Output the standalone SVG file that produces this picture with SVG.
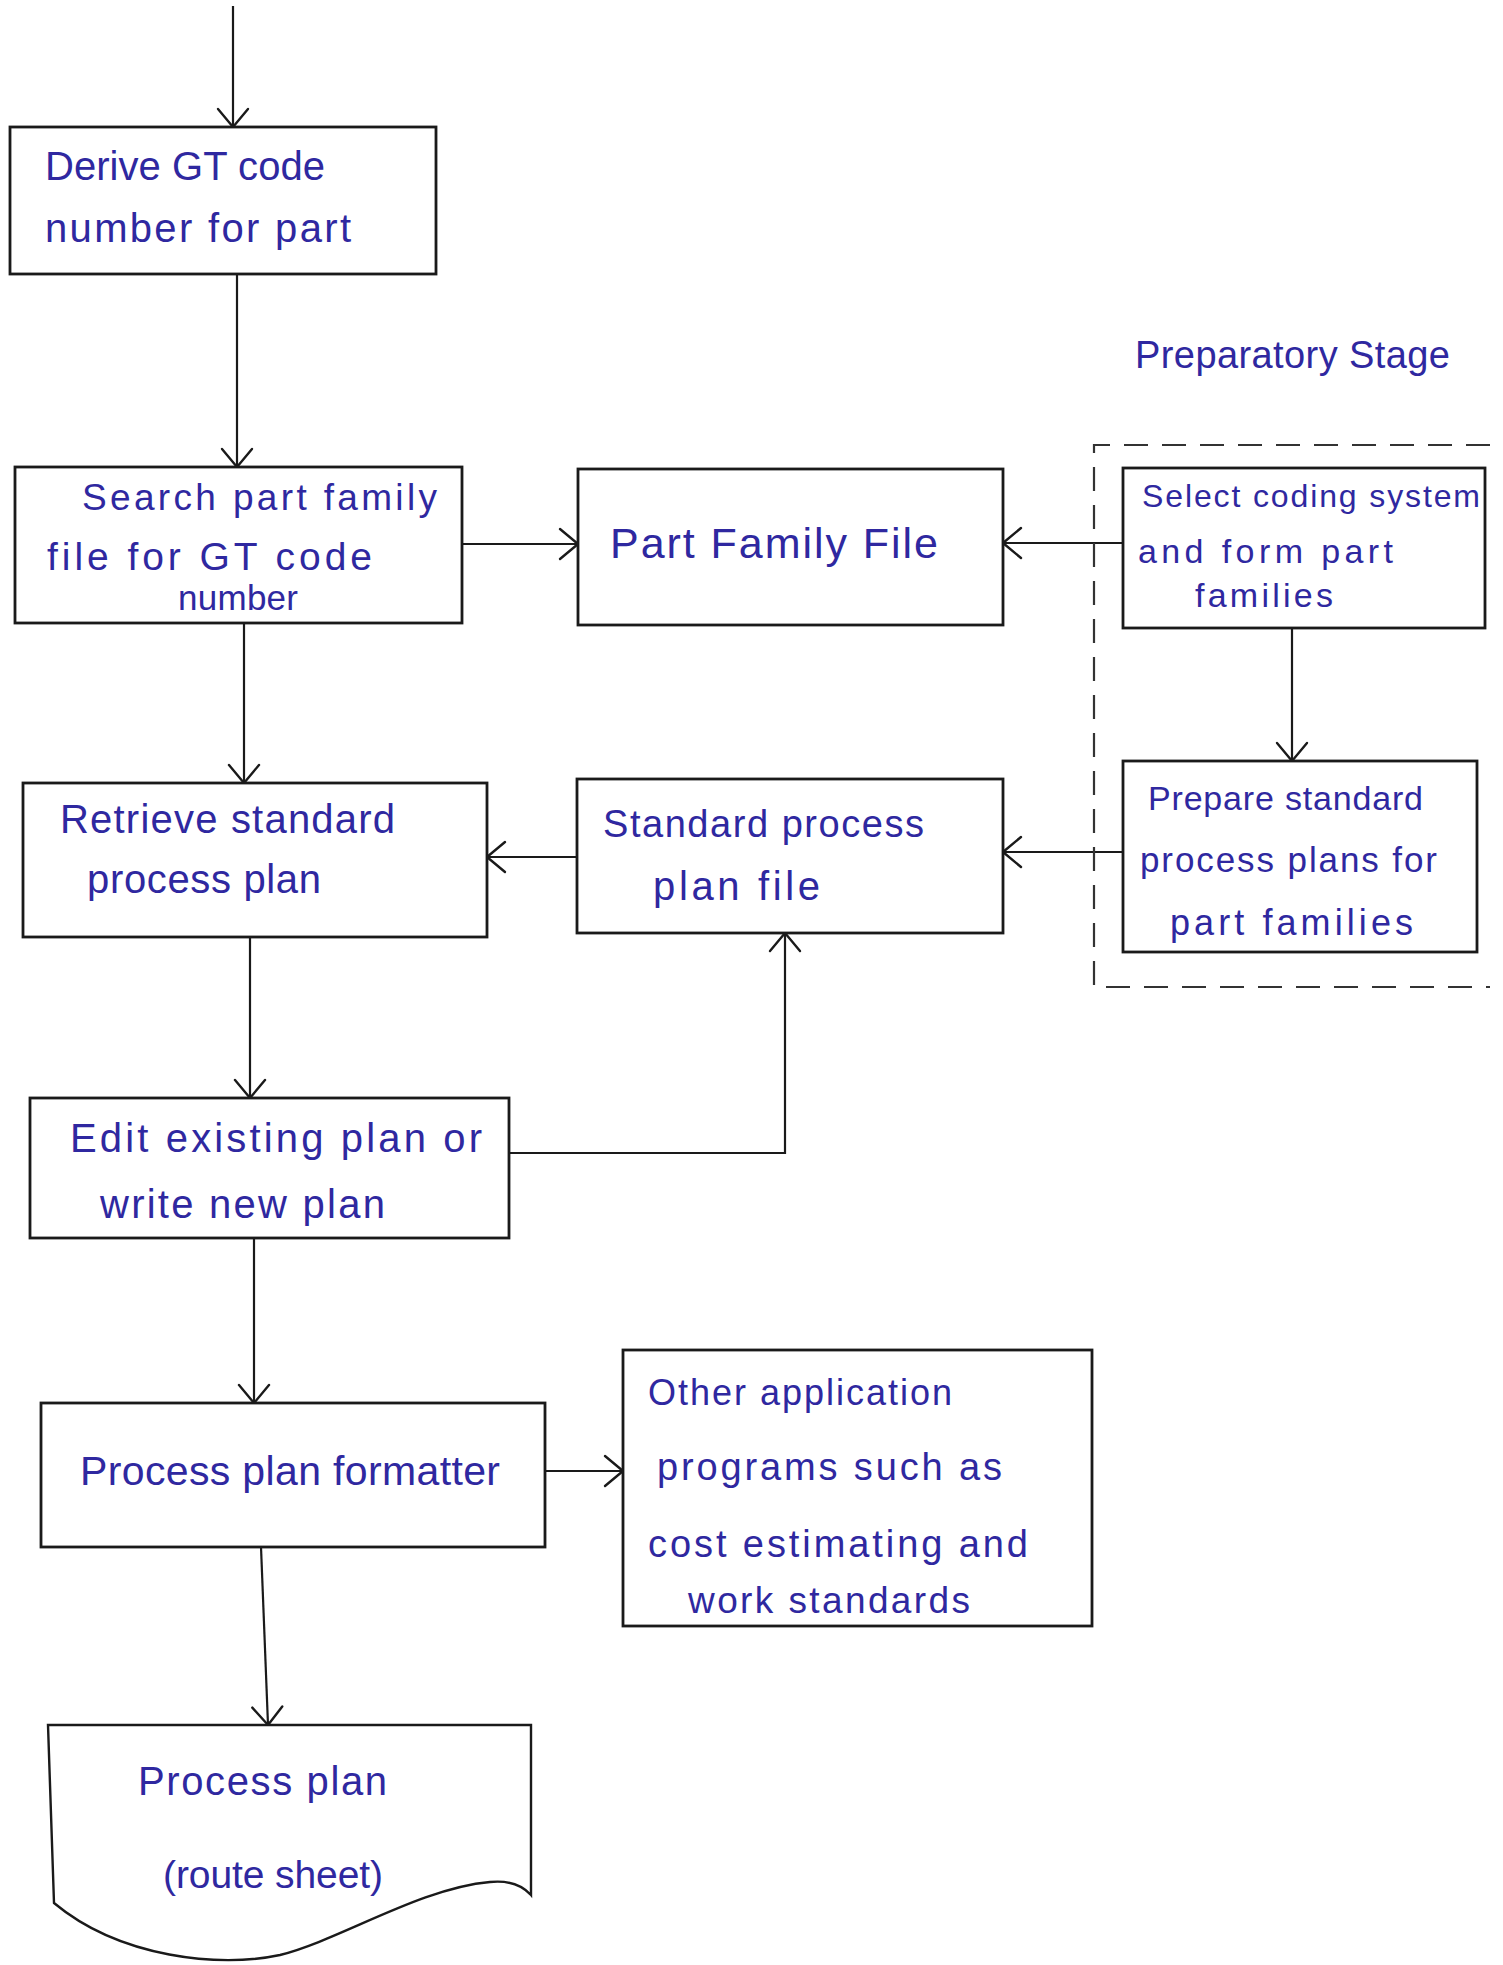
<svg xmlns="http://www.w3.org/2000/svg" width="1503" height="1965" viewBox="0 0 1503 1965">
<style>
.box{fill:#fff;stroke:#1a1a1a;stroke-width:2.8}
.doc{fill:#fff;stroke:#1a1a1a;stroke-width:2.4}
.conn{fill:none;stroke:#1a1a1a;stroke-width:2.2;marker-end:url(#arr)}
.dash{fill:none;stroke:#333;stroke-width:2.2;stroke-dasharray:24 14}
.t{font-family:"Liberation Sans","DejaVu Sans",sans-serif;fill:#2f28a0}
</style>
<defs>
<marker id="arr" viewBox="-3 -3 24 36" refX="18" refY="15" markerWidth="24" markerHeight="36" markerUnits="userSpaceOnUse" orient="auto">
<path d="M0,0 L18,15 L0,30" fill="none" stroke="#1a1a1a" stroke-width="2.4" stroke-linecap="round" stroke-linejoin="round"/>
</marker>
</defs>
<rect width="1503" height="1965" fill="#fff"/>

<g id="connectors">
<path class="conn" d="M233,6 V127"/>
<path class="conn" d="M237,274 V467"/>
<path class="conn" d="M244,623 V783"/>
<path class="conn" d="M462,544 H578"/>
<path class="conn" d="M1123,543 H1003"/>
<path class="conn" d="M1292,628 V761"/>
<path class="conn" d="M1123,852 H1003"/>
<path class="conn" d="M577,857 H487"/>
<path class="conn" d="M250,937 V1098"/>
<path class="conn" d="M509,1153 H785 V933"/>
<path class="conn" d="M254,1238 V1403"/>
<path class="conn" d="M545,1471 H623"/>
<path class="conn" d="M261,1547 L268,1725"/>
</g>

<g id="preparatory-stage">
<path class="dash" d="M1490,445 H1094 V987 H1490"/>
<text class="t" x="1135" y="368" font-size="38" textLength="315">Preparatory Stage</text>
</g>

<g id="derive">
<rect class="box" x="10" y="127" width="426" height="147"/>
<text class="t" x="45" y="180" font-size="40" textLength="280">Derive GT code</text>
<text class="t" x="45" y="242" font-size="40" textLength="306">number for part</text>
</g>

<g id="search">
<rect class="box" x="15" y="467" width="447" height="156"/>
<text class="t" x="82" y="510" font-size="37" textLength="355">Search part family</text>
<text class="t" x="47" y="570" font-size="39" textLength="325">file for GT code</text>
<text class="t" x="178" y="610" font-size="35" textLength="120">number</text>
</g>

<g id="part-family-file">
<rect class="box" x="578" y="469" width="425" height="156"/>
<text class="t" x="610" y="558" font-size="43" textLength="328">Part Family File</text>
</g>

<g id="select-coding">
<rect class="box" x="1123" y="468" width="362" height="160"/>
<text class="t" x="1142" y="507" font-size="32" textLength="338">Select coding system</text>
<text class="t" x="1138" y="563" font-size="34" textLength="255">and form part</text>
<text class="t" x="1195" y="607" font-size="34" textLength="138">families</text>
</g>

<g id="prepare">
<rect class="box" x="1123" y="761" width="354" height="191"/>
<text class="t" x="1148" y="810" font-size="34" textLength="275">Prepare standard</text>
<text class="t" x="1140" y="872" font-size="35" textLength="297">process plans for</text>
<text class="t" x="1170" y="935" font-size="36" textLength="243">part families</text>
</g>

<g id="retrieve">
<rect class="box" x="23" y="783" width="464" height="154"/>
<text class="t" x="60" y="833" font-size="40" textLength="335">Retrieve standard</text>
<text class="t" x="87" y="893" font-size="40" textLength="234">process plan</text>
</g>

<g id="standard-plan-file">
<rect class="box" x="577" y="779" width="426" height="154"/>
<text class="t" x="603" y="837" font-size="38" textLength="321">Standard process</text>
<text class="t" x="653" y="900" font-size="40" textLength="167">plan file</text>
</g>

<g id="edit">
<rect class="box" x="30" y="1098" width="479" height="140"/>
<text class="t" x="70" y="1152" font-size="40" textLength="412">Edit existing plan or</text>
<text class="t" x="100" y="1218" font-size="40" textLength="285">write new plan</text>
</g>

<g id="formatter">
<rect class="box" x="41" y="1403" width="504" height="144"/>
<text class="t" x="80" y="1485" font-size="41" textLength="420">Process plan formatter</text>
</g>

<g id="other-applications">
<rect class="box" x="623" y="1350" width="469" height="276"/>
<text class="t" x="648" y="1405" font-size="36" textLength="304">Other application</text>
<text class="t" x="657" y="1480" font-size="38" textLength="345">programs such as</text>
<text class="t" x="648" y="1557" font-size="38" textLength="380">cost estimating and</text>
<text class="t" x="688" y="1613" font-size="37" textLength="282">work standards</text>
</g>

<g id="process-plan-doc">
<path class="doc" d="M48,1725 H531 V1895 C522,1885 510,1880 490,1882 C420,1888 340,1940 280,1955 C220,1968 120,1958 54,1903 Z"/>
<text class="t" x="138" y="1795" font-size="40" textLength="249">Process plan</text>
<text class="t" x="163" y="1888" font-size="39" textLength="220">(route sheet)</text>
</g>
</svg>
